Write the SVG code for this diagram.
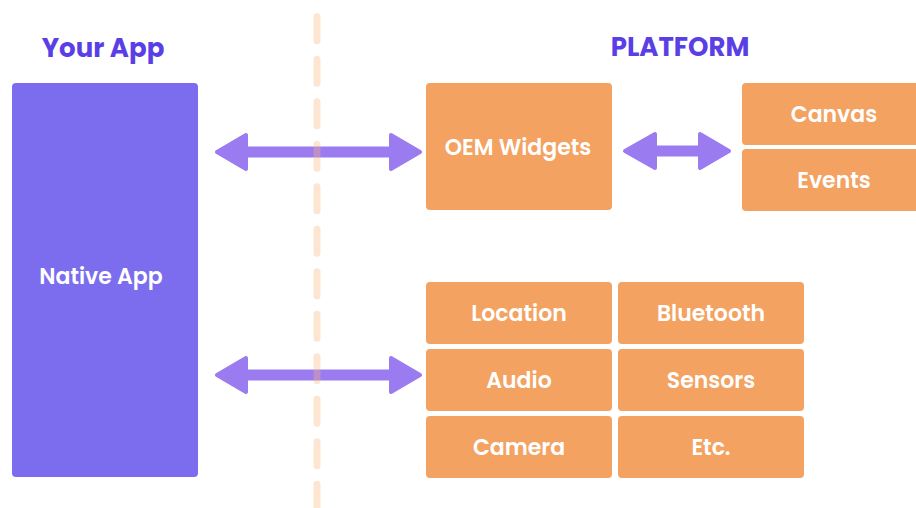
<svg xmlns="http://www.w3.org/2000/svg" width="916" height="508" viewBox="0 0 916 508">
  <style>
    .title { font-family: "Poppins", Inter, "Liberation Sans", sans-serif; font-weight: 700; font-size: 26px; fill: #5a3fe6; text-anchor: middle; }
    .box { fill: #f3a261; }
    .app { fill: #7b6dee; }
    .label { font-family: "Poppins", Inter, "Liberation Sans", sans-serif; font-weight: 600; font-size: 22px; fill: #ffffff; text-anchor: middle; }
    .arrow { fill: #9b7cf0; stroke: #9b7cf0; stroke-width: 4; stroke-linejoin: round; }
    .divider { fill: none; stroke: #f9b57f; stroke-opacity: 0.35; stroke-width: 7; stroke-linecap: round; stroke-dasharray: 24 18.5; }
  </style>

  <rect width="916" height="508" fill="#ffffff"/>

  <text class="title" x="103" y="57">Your App</text>
  <text class="title" x="680" y="56">PLATFORM</text>

  <g id="native-app">
    <rect class="app" x="12" y="83" width="186" height="394" rx="4"/>
    <text class="label" x="101" y="284">Native App</text>
  </g>

  <g id="oem-widgets">
    <rect class="box" x="426" y="83" width="186" height="127" rx="4"/>
    <text class="label" x="518" y="154.5">OEM Widgets</text>
  </g>

  <g id="canvas">
    <rect class="box" x="742" y="83" width="190" height="62" rx="4"/>
    <text class="label" x="834" y="121.5">Canvas</text>
  </g>
  <g id="events">
    <rect class="box" x="742" y="149" width="190" height="62" rx="4"/>
    <text class="label" x="834" y="187.5">Events</text>
  </g>

  <g id="location">
    <rect class="box" x="426" y="282" width="186" height="62" rx="4"/>
    <text class="label" x="519" y="320.5">Location</text>
  </g>
  <g id="bluetooth">
    <rect class="box" x="618" y="282" width="186" height="62" rx="4"/>
    <text class="label" x="711" y="320.5">Bluetooth</text>
  </g>
  <g id="audio">
    <rect class="box" x="426" y="349" width="186" height="62" rx="4"/>
    <text class="label" x="519" y="387.5">Audio</text>
  </g>
  <g id="sensors">
    <rect class="box" x="618" y="349" width="186" height="62" rx="4"/>
    <text class="label" x="711" y="387.5">Sensors</text>
  </g>
  <g id="camera">
    <rect class="box" x="426" y="416" width="186" height="62" rx="4"/>
    <text class="label" x="519" y="454.5">Camera</text>
  </g>
  <g id="etc">
    <rect class="box" x="618" y="416" width="186" height="62" rx="4"/>
    <text class="label" x="711" y="454.5">Etc.</text>
  </g>

  <g id="connectors">
    <!-- app <-> OEM widgets -->
    <path class="arrow" d="M217,152 L246,135 L246,148.5 L391,148.5 L391,135 L420,152 L391,169 L391,155.5 L246,155.5 L246,169 Z"/>
    <!-- OEM widgets <-> canvas/events -->
    <path class="arrow" d="M625,151 L655,134 L655,147.5 L700,147.5 L700,134 L729,151 L700,168 L700,154.5 L655,154.5 L655,168 Z"/>
    <!-- app <-> services -->
    <path class="arrow" d="M217,375 L246,358 L246,371.5 L391,371.5 L391,358 L420,375 L391,392 L391,378.5 L246,378.5 L246,392 Z"/>
  </g>

  <!-- app / platform boundary -->
  <path class="divider" d="M317,16.8 L317,508"/>
</svg>
